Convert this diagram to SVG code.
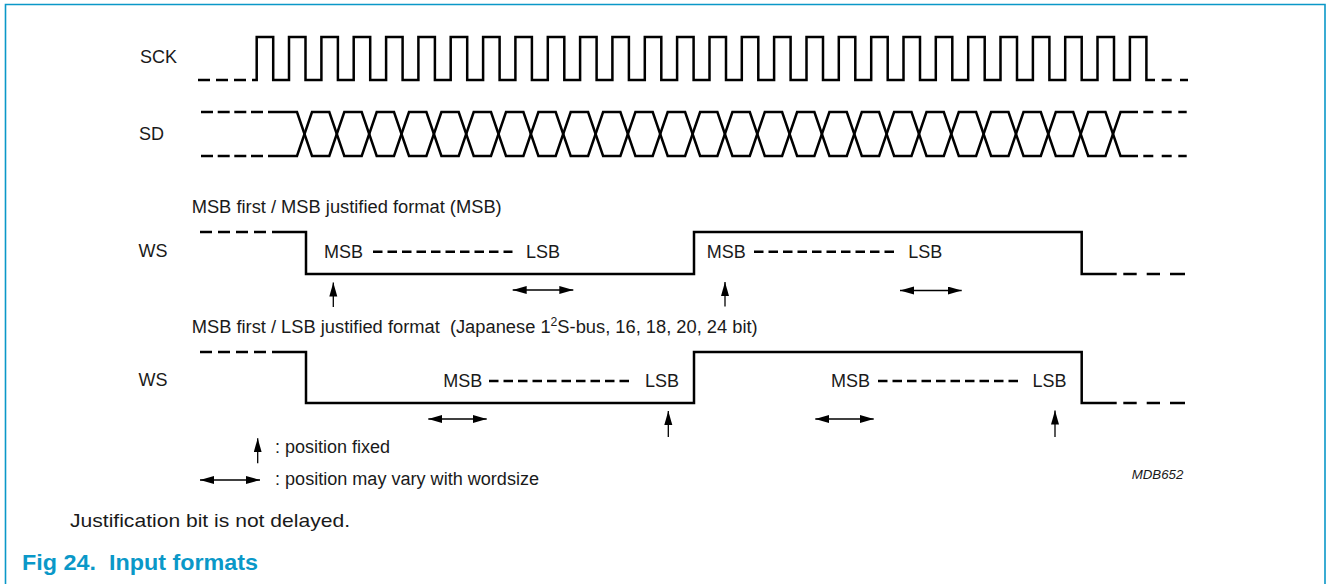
<svg xmlns="http://www.w3.org/2000/svg" width="1327" height="584" viewBox="0 0 1327 584">
<style>
text{font-family:"Liberation Sans",Arial,sans-serif;fill:#1a1a1a}
.lbl{font-size:18px}
.wave{fill:none;stroke:#000;stroke-width:2.5;stroke-linejoin:miter}
.dash{fill:none;stroke:#000;stroke-width:2.5}
.ddash{fill:none;stroke:#000;stroke-width:2.6;stroke-dasharray:9.5 5}
.arr{fill:none;stroke:#000;stroke-width:1.3}
.frame{fill:none;stroke:#0a98c8;stroke-width:1.6}
</style>
<defs>
<marker id="ah" markerUnits="userSpaceOnUse" markerWidth="15" markerHeight="9" refX="14" refY="4" orient="auto-start-reverse">
<path d="M0,0 L14,4 L0,8 z" fill="#000"/>
</marker>
</defs>
<rect width="1327" height="584" fill="#fff"/>
<path class="frame" d="M5.5,584 V4.5 H1325 V584"/>

<g id="sck">
<text class="lbl" x="140" y="63">SCK</text>
<path class="dash" d="M198,80 H210 M216,80 H228 M234,80 H246 M1161.7,80 H1171.7 M1180,80 H1188"/>
<path class="wave" d="M252,80 H256.7 V37 H273.2 V80 H289 V37 H305.5 V80 H321.4 V37 H337.9 V80 H353.7 V37 H370.2 V80 H386.1 V37 H402.6 V80 H418.4 V37 H434.9 V80 H450.7 V37 H467.2 V80 H483.1 V37 H499.6 V80 H515.4 V37 H531.9 V80 H547.8 V37 H564.3 V80 H580.1 V37 H596.6 V80 H612.4 V37 H628.9 V80 H644.8 V37 H661.3 V80 H677.1 V37 H693.6 V80 H709.5 V37 H726 V80 H741.8 V37 H758.3 V80 H774.1 V37 H790.6 V80 H806.5 V37 H823 V80 H838.8 V37 H855.3 V80 H871.2 V37 H887.7 V80 H903.5 V37 H920 V80 H935.8 V37 H952.3 V80 H968.2 V37 H984.7 V80 H1000.5 V37 H1017 V80 H1032.9 V37 H1049.4 V80 H1065.2 V37 H1081.7 V80 H1097.5 V37 H1114 V80 H1129.9 V37 H1146.4 V80 H1155"/>
</g>

<g id="sd">
<text class="lbl" x="139" y="140">SD</text>
<path class="dash" d="M201,112 H213 M217.7,112 H229.7 M234.3,112 H246.3 M251,112 H263 M201,156 H213 M217.7,156 H229.7 M234.3,156 H246.3 M251,156 H263 M1143.3,112 H1153.3 M1161.7,112 H1171.7 M1178.3,112 H1186.7 M1143.3,156 H1153.3 M1161.7,156 H1171.7 M1178.3,156 H1186.7"/>
<polyline class="wave" points="268,112 297,112 312,156 329.3,156 344.3,112 361.7,112 376.7,156 394,156 409,112 426.4,112 441.4,156 458.7,156 473.7,112 491,112 506,156 523.4,156 538.4,112 555.7,112 570.7,156 588.1,156 603.1,112 620.4,112 635.4,156 652.7,156 667.7,112 685.1,112 700.1,156 717.4,156 732.4,112 749.8,112 764.8,156 782.1,156 797.1,112 814.4,112 829.4,156 846.8,156 861.8,112 879.1,112 894.1,156 911.5,156 926.5,112 943.8,112 958.8,156 976.1,156 991.1,112 1008.5,112 1023.5,156 1040.8,156 1055.8,112 1073.2,112 1088.2,156 1105.5,156 1120.5,112 1138,112"/>
<polyline class="wave" points="268,156 297,156 312,112 329.3,112 344.3,156 361.7,156 376.7,112 394,112 409,156 426.4,156 441.4,112 458.7,112 473.7,156 491,156 506,112 523.4,112 538.4,156 555.7,156 570.7,112 588.1,112 603.1,156 620.4,156 635.4,112 652.7,112 667.7,156 685.1,156 700.1,112 717.4,112 732.4,156 749.8,156 764.8,112 782.1,112 797.1,156 814.4,156 829.4,112 846.8,112 861.8,156 879.1,156 894.1,112 911.5,112 926.5,156 943.8,156 958.8,112 976.1,112 991.1,156 1008.5,156 1023.5,112 1040.8,112 1055.8,156 1073.2,156 1088.2,112 1105.5,112 1120.5,156 1138,156"/>
</g>

<g id="ws1">
<text class="lbl" x="191.7" y="213" textLength="310" lengthAdjust="spacingAndGlyphs">MSB first / MSB justified format (MSB)</text>
<text class="lbl" x="138.5" y="257">WS</text>
<path class="dash" d="M200,232 H212 M218,232 H230 M236,232 H248 M254,232 H266 M1123.3,274 H1136.7 M1146.7,274 H1160 M1170,274 H1185"/>
<path class="wave" d="M272,232 H306 V274 H694 V232 H1081.7 V274 H1116.7"/>
<text class="lbl" x="324" y="258">MSB</text>
<path class="ddash" d="M373,251.7 H512.5"/>
<text class="lbl" x="526" y="258">LSB</text>
<text class="lbl" x="706.7" y="258">MSB</text>
<path class="ddash" d="M754,251.7 H896"/>
<text class="lbl" x="908.3" y="258">LSB</text>
</g>

<g id="ws2">
<text class="lbl" x="191.7" y="333" textLength="566" lengthAdjust="spacingAndGlyphs">MSB first / LSB justified format &#160;(Japanese 1<tspan font-size="12" dy="-7">2</tspan><tspan dy="7">S-bus, 16, 18, 20, 24 bit)</tspan></text>
<text class="lbl" x="138.5" y="386">WS</text>
<path class="dash" d="M200,352 H212 M218,352 H230 M236,352 H248 M254,352 H266 M1123.3,403 H1136.7 M1146.7,403 H1160 M1170,403 H1185"/>
<path class="wave" d="M272,352 H306 V403 H694 V352 H1081.7 V403 H1116.7"/>
<text class="lbl" x="443.3" y="387">MSB</text>
<path class="ddash" d="M489,381 H634"/>
<text class="lbl" x="645" y="387">LSB</text>
<text class="lbl" x="831" y="387">MSB</text>
<path class="ddash" d="M878,381 H1021"/>
<text class="lbl" x="1032.5" y="387">LSB</text>
</g>

<g id="connectors">
<line class="arr" x1="333.3" y1="307" x2="333.3" y2="282.5" marker-end="url(#ah)"/>
<line class="arr" x1="725" y1="306.5" x2="725" y2="282" marker-end="url(#ah)"/>
<line class="arr" x1="512.7" y1="290" x2="573.3" y2="290" marker-start="url(#ah)" marker-end="url(#ah)"/>
<line class="arr" x1="900" y1="290.5" x2="961.7" y2="290.5" marker-start="url(#ah)" marker-end="url(#ah)"/>
<line class="arr" x1="668.3" y1="437" x2="668.3" y2="411" marker-end="url(#ah)"/>
<line class="arr" x1="1055" y1="437" x2="1055" y2="410.5" marker-end="url(#ah)"/>
<line class="arr" x1="428.3" y1="419" x2="486.7" y2="419" marker-start="url(#ah)" marker-end="url(#ah)"/>
<line class="arr" x1="815.3" y1="419" x2="873.7" y2="419" marker-start="url(#ah)" marker-end="url(#ah)"/>
</g>

<g id="legend">
<line class="arr" x1="257.7" y1="463.3" x2="257.7" y2="438.3" marker-end="url(#ah)"/>
<text class="lbl" x="275" y="453.3">: position fixed</text>
<line class="arr" x1="200" y1="480" x2="260" y2="480" marker-start="url(#ah)" marker-end="url(#ah)"/>
<text class="lbl" x="275" y="485" textLength="264" lengthAdjust="spacingAndGlyphs">: position may vary with wordsize</text>
<text x="1131.7" y="479.3" font-size="13" font-style="italic" textLength="51.6" lengthAdjust="spacingAndGlyphs">MDB652</text>
</g>

<g id="caption">
<text x="70" y="527" font-size="19" textLength="280" lengthAdjust="spacingAndGlyphs">Justification bit is not delayed.</text>
<text x="22" y="570" font-size="22" font-weight="bold" style="fill:#0a98c8" textLength="236" lengthAdjust="spacingAndGlyphs">Fig 24.&#160; Input formats</text>
</g>
</svg>
